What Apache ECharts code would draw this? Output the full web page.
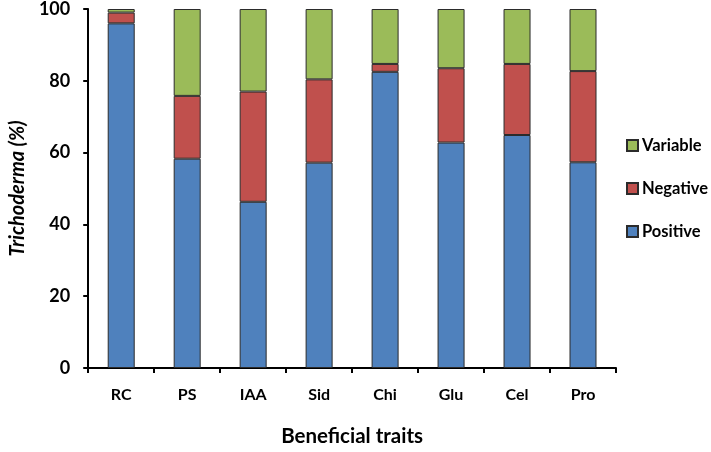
<!DOCTYPE html>
<html>
<head>
<meta charset="utf-8">
<script src="https://cdn.jsdelivr.net/npm/echarts@6/dist/echarts.min.js"></script>
<style>html,body{margin:0;padding:0;background:#fff}#c{width:711px;height:452px}</style>
</head>
<body>
<div id="c"></div>
<script>
const categories = ['RC', 'PS', 'IAA', 'Sid', 'Chi', 'Glu', 'Cel', 'Pro'];
const positive = [96.0, 58.3, 46.3, 57.2, 82.5, 62.8, 64.9, 57.3];
const negative = [3.0, 17.5, 30.7, 23.2, 2.2, 20.7, 19.8, 25.4];
const variable = [1.0, 24.2, 23.0, 19.6, 15.3, 16.5, 15.3, 17.3];
const yTicks = [0, 20, 40, 60, 80, 100];

const FONT = 'Lato';
const chart = echarts.init(document.getElementById('c'));
const barStyle = (c) => ({ color: c, borderColor: '#2b2b2b', borderWidth: 1 });
chart.setOption({
  animation: false,
  grid: { left: 83, right: 95, top: 9, bottom: 78 },
  legend: {
    orient: 'vertical',
    left: 621, top: 132,
    itemGap: 26,
    itemWidth: 11, itemHeight: 11,
    icon: 'rect',
    data: ['Variable', 'Negative', 'Positive'],
    textStyle: { fontFamily: FONT, fontWeight: 'bold', fontSize: 16.5, color: '#000', padding: [0, 0, 0, -1] }
  },
  xAxis: {
    type: 'category',
    data: categories,
    name: 'Beneficial traits',
    nameLocation: 'middle',
    nameGap: 58,
    nameTextStyle: { fontFamily: FONT, fontWeight: 'bold', fontSize: 20.5, color: '#000' },
    axisLine: { lineStyle: { color: '#000', width: 2 } },
    axisTick: { show: true, length: 5, lineStyle: { color: '#000', width: 2 } },
    axisLabel: { fontFamily: FONT, fontWeight: 'bold', fontSize: 16, color: '#000', margin: 19 }
  },
  yAxis: {
    type: 'value',
    min: yTicks[0], max: yTicks[yTicks.length - 1], interval: 20,
    name: 'Trichoderma (%)',
    nameLocation: 'middle',
    nameGap: 42,
    nameTextStyle: { fontFamily: FONT, fontWeight: 'bold', fontStyle: 'italic', fontSize: 20, color: '#000' },
    axisLine: { show: true, lineStyle: { color: '#000', width: 2 } },
    axisTick: { show: true, length: 5, lineStyle: { color: '#000', width: 2 } },
    splitLine: { show: false },
    axisLabel: { fontFamily: FONT, fontWeight: 'bold', fontSize: 18, color: '#000', margin: 18 }
  },
  series: [
    { name: 'Positive', type: 'bar', stack: 't', data: positive, barWidth: 27, itemStyle: barStyle('#4F81BD') },
    { name: 'Negative', type: 'bar', stack: 't', data: negative, barWidth: 27, itemStyle: barStyle('#C0504D') },
    { name: 'Variable', type: 'bar', stack: 't', data: variable, barWidth: 27, itemStyle: barStyle('#9BBB59') }
  ]
});
</script>
</body>
</html>
